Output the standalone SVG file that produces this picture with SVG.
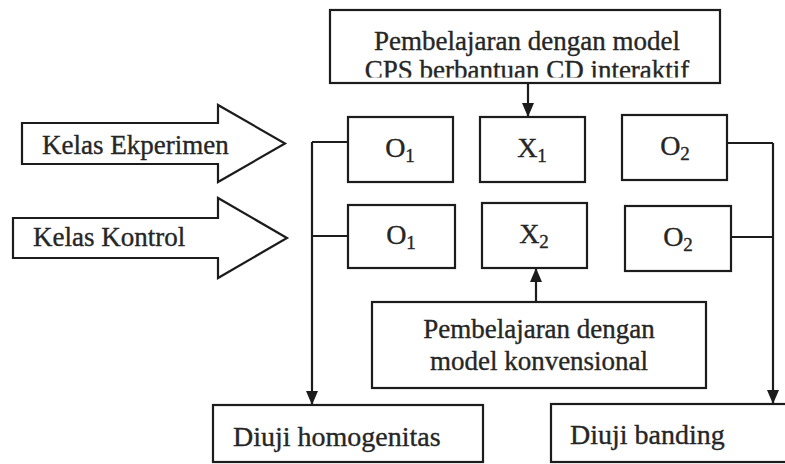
<svg xmlns="http://www.w3.org/2000/svg" width="785" height="464" viewBox="0 0 785 464">
<defs>
<style>
.box{fill:#fff;stroke:#1c1c1c;stroke-width:2.2}
.big{fill:#fff;stroke:#1c1c1c;stroke-width:2.2;stroke-linejoin:miter}
.t{font-family:"Liberation Serif","Times New Roman",serif;font-size:27px;fill:#262626;stroke:#262626;stroke-width:0.35}
.lbl{font-family:"Liberation Serif","Times New Roman",serif;font-size:28px;fill:#262626;stroke:#262626;stroke-width:0.35;text-anchor:middle}
.sub{font-size:19px}
.c{fill:none;stroke:#1c1c1c;stroke-width:2.2}
</style>
<marker id="ah" markerUnits="userSpaceOnUse" markerWidth="14" markerHeight="16" refX="14" refY="6" orient="auto">
<path d="M0,0 L14,6 L0,12 Z" fill="#1c1c1c"/>
</marker>
<clipPath id="clipTop"><rect x="330" y="10" width="390" height="67.5"/></clipPath>
</defs>
<rect width="785" height="464" fill="#fff"/>

<g id="connectors">
<line class="c" x1="528" y1="83" x2="528" y2="117" marker-end="url(#ah)"/>
<line class="c" x1="536" y1="302" x2="536" y2="268" marker-end="url(#ah)"/>
<path class="c" d="M348,142 H312 M348,236 H312"/>
<path class="c" d="M312,142 V405" marker-end="url(#ah)"/>
<path class="c" d="M727,143 H773 M731,237 H773"/>
<path class="c" d="M773,143 V404" marker-end="url(#ah)"/>
</g>

<g id="top-box">
<rect class="box" x="330" y="10" width="390" height="73"/>
<text class="t" x="527" y="50" text-anchor="middle">Pembelajaran dengan model</text>
<text class="t" x="527" y="79" text-anchor="middle" clip-path="url(#clipTop)">CPS berbantuan CD interaktif</text>
</g>

<g id="kelas-ekperimen">
<polygon class="big" points="22,123 218,123 218,105 285,143.5 218,182 218,164 22,164"/>
<text class="t" x="42" y="154">Kelas Ekperimen</text>
</g>

<g id="kelas-kontrol">
<polygon class="big" points="13,218 218,218 218,198 287,238 218,278 218,258 13,258"/>
<text class="t" x="33" y="246">Kelas Kontrol</text>
</g>

<g id="o1-exp">
<rect class="box" x="348" y="117" width="105" height="65"/>
<text class="lbl" x="400" y="157">O<tspan class="sub" dy="5">1</tspan></text>
</g>
<g id="x1">
<rect class="box" x="480" y="117" width="105" height="65"/>
<text class="lbl" x="532" y="157">X<tspan class="sub" dy="5">1</tspan></text>
</g>
<g id="o2-exp">
<rect class="box" x="622" y="115" width="105" height="65"/>
<text class="lbl" x="675" y="155">O<tspan class="sub" dy="5">2</tspan></text>
</g>

<g id="o1-ctrl">
<rect class="box" x="348" y="205" width="107" height="63"/>
<text class="lbl" x="401" y="244">O<tspan class="sub" dy="5">1</tspan></text>
</g>
<g id="x2">
<rect class="box" x="482" y="203" width="105" height="65"/>
<text class="lbl" x="534" y="243">X<tspan class="sub" dy="5">2</tspan></text>
</g>
<g id="o2-ctrl">
<rect class="box" x="625" y="206" width="106" height="65"/>
<text class="lbl" x="678" y="246">O<tspan class="sub" dy="5">2</tspan></text>
</g>

<g id="konvensional-box">
<rect class="box" x="372" y="302" width="334" height="86"/>
<text class="t" x="539" y="338" text-anchor="middle">Pembelajaran dengan</text>
<text class="t" x="539" y="370" text-anchor="middle">model konvensional</text>
</g>

<g id="homogenitas-box">
<rect class="box" x="213" y="405" width="270" height="57"/>
<text class="t" x="233" y="446" style="font-size:28px">Diuji homogenitas</text>
</g>

<g id="banding-box">
<rect class="box" x="551" y="404" width="250" height="58"/>
<text class="t" x="570" y="444" style="font-size:28px">Diuji banding</text>
</g>
</svg>
